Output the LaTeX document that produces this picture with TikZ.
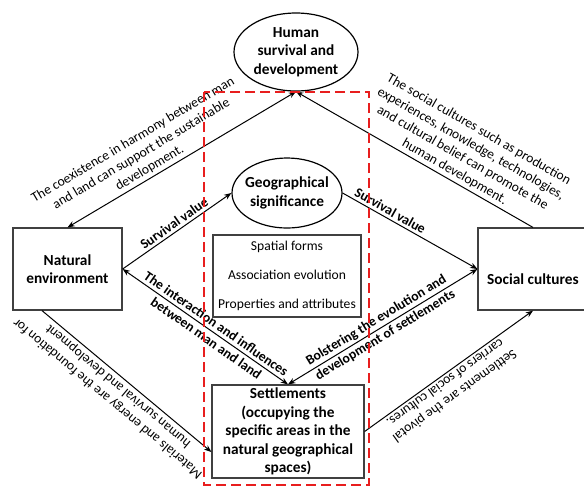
\documentclass[tikz,border=0pt]{standalone}
\usepackage{fontspec}
\setmainfont{Carlito}
\usetikzlibrary{arrows.meta, calc, shapes.geometric}
\definecolor{rojo}{RGB}{232,30,30}

\begin{document}
\begin{tikzpicture}[x=0.75pt, y=-0.75pt, >={Stealth[length=5.5pt,width=4.2pt]}, line width=0.75pt,
  caja/.style={draw=black!75, line width=0.9pt, inner sep=1pt, align=center, font=\fontsize{11.5}{13.9}\selectfont\bfseries},
  elipse/.style={draw, ellipse, line width=0.9pt, inner xsep=-6pt, inner ysep=0pt, align=center, font=\fontsize{11.5}{13.9}\selectfont\bfseries},
  nota/.style={sloped, inner sep=2pt, align=center, font=\fontsize{10.2}{12.2}\selectfont},
  negrita/.style={sloped, inner sep=2pt, align=center, font=\fontsize{10.3}{13}\selectfont\bfseries}]
  \useasboundingbox (0,0) rectangle (584,487);
  % nodos
  \node[elipse, minimum width=93pt, minimum height=58.5pt] (hum) at (296,52) {Human\\survival and\\development};
  \node[elipse, minimum width=82.5pt, minimum height=52.5pt] (geo) at (287,193) {Geographical\\significance};
  \node[caja, font=\fontsize{10.2}{22}\selectfont, minimum width=111pt, minimum height=61.5pt] (attr) at (287,276) {Spatial forms\\Association evolution\\Properties and attributes};
  \node[caja, minimum width=81.75pt, minimum height=61.5pt] (nat) at (67.5,269) {Natural\\environment};
  \node[caja, minimum width=82.5pt, minimum height=61.5pt] (soc) at (533,269) {\strut\\Social cultures};
  \node[caja, minimum width=114pt, minimum height=69.75pt] (set) at (288,431.5) {Settlements\\(occupying the\\specific areas in the\\natural geographical\\spaces)};
  % conexiones con el nodo superior
  \draw[<->] (nat.north) -- node[nota, above, pos=0.38] {The coexistence in harmony between man\\and land can support the sustainable\\development.} (hum.south);
  \draw[<-] (hum.south) -- node[nota, above, pos=0.65] {The social cultures such as production\\experiences, knowledge, technologies,\\and cultural belief can promote the\\human development.} (soc.north);
  % valor de supervivencia
  \draw[->] (nat.east) -- node[negrita, above, pos=0.515] {Survival value} (geo.west);
  \draw[->] (geo.east) -- node[negrita, above, pos=0.325] {Survival value} (soc.west);
  % interacciones con los asentamientos
  \draw[<->] (nat.east) -- node[negrita, pos=0.536] {The interaction and influences\\between man and land} (set.north);
  \draw[<->] (set.north) -- node[negrita, pos=0.49] {Bolstering the evolution and\\development of settlements} (soc.west);
  % textos invertidos
  \coordinate (natS) at ($(nat.south)+(-25.5,0)$);
  \coordinate (setW) at ($(set.west)+(0,20.5)$);
  \draw[<-] (setW) -- node[nota, allow upside down, above, pos=0.516] {Materials and energy are the foundation for\\human survival and development} (natS);
  \draw[<-] (soc.south) -- node[nota, allow upside down, above, pos=0.547] {Settlements are the pivotal\\carriers of social cultures.} (set.east);
  % marco rojo
  \draw[rojo, line width=1.1pt, dash pattern=on 7.5pt off 3.75pt] (204,92) rectangle (369,485);
\end{tikzpicture}
\end{document}
